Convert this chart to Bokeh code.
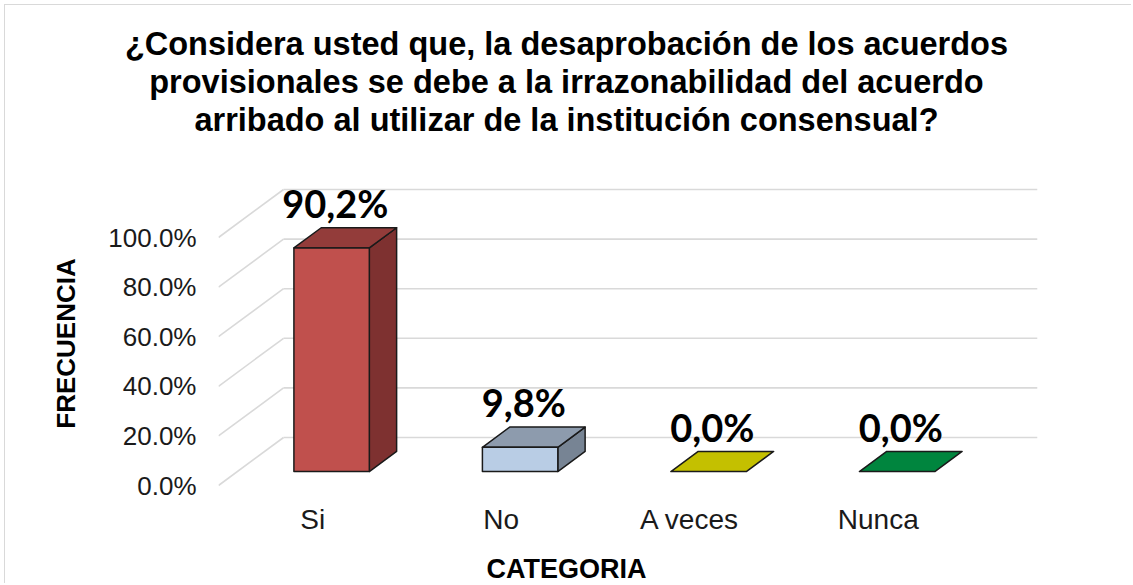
import numpy as np
from bokeh.plotting import figure
from bokeh.models import (LinearAxis, FixedTicker, PrintfTickFormatter,
                          CustomJSTickFormatter, Range1d, Title, ColumnDataSource)
from bokeh.core.properties import value
from bokeh.embed import file_html
from bokeh.resources import INLINE

# ---------------- data ----------------
categories = ["Si", "No", "A veces", "Nunca"]
percentages = [90.2, 9.8, 0.0, 0.0]
value_labels = ["90,2%", "9,8%", "0,0%", "0,0%"]
front_colors = ["#C0504D", "#B9CDE5", "#C4C000", "#00853E"]
top_colors = ["#933C3A", "#8D9BAD", "#C4C000", "#00853E"]
side_colors = ["#7E3130", "#778494", "#939000", "#00642F"]
y_ticks = [0, 20, 40, 60, 80, 100]
title_lines = ["¿Considera usted que, la desaprobación de los acuerdos",
               "provisionales se debe a la irrazonabilidad del acuerdo",
               "arribado al utilizar de la institución consensual?"]
x_title = "CATEGORIA"
y_title = "FRECUENCIA"

# ---------------- helpers: Arial/Liberation Sans Bold advance widths ----------------
AB = {' ': 278, '¿': 611, '?': 611, ',': 278, '.': 278,
      'A': 722, 'C': 722, 'E': 667, 'F': 611, 'G': 778, 'I': 278, 'N': 722, 'O': 778,
      'R': 722, 'T': 611, 'U': 722,
      'a': 556, 'b': 611, 'c': 556, 'd': 611, 'e': 556, 'f': 333, 'g': 611, 'h': 611,
      'i': 278, 'j': 278, 'l': 278, 'm': 889, 'n': 611, 'o': 611, 'ó': 611, 'p': 611,
      'q': 611, 'r': 389, 's': 556, 't': 333, 'u': 611, 'v': 556, 'z': 500}

def bold_width(s, size):
    return sum(AB.get(ch, 556) for ch in s) * size / 1000.0

# ---------------- geometry (3-D look), in page pixels ----------------
DX, DY = 0.345, 19.35      # depth of the wall box: category units, percent units
D0, D1 = 0.29, 0.71        # depth span occupied by the bars
BL, BR = 0.30, 0.70        # bar span inside a category slot
PX_X, PX_Y = 188.5, 2.48   # pixels per category unit / per percent
ORIG_X, ORIG_Y = 218, 485  # page position of (0, 0)

OFF = 5                    # canvas origin on the page (4px margin + 1px border)
W, H = 1127, 579
PAGE_R, PAGE_B = OFF + W, OFF + H
FRAME_L, FRAME_R, FRAME_T, FRAME_B = 218, 1037, 137, 487
x_end = (FRAME_R - FRAME_L) / PX_X
y_end = (ORIG_Y - FRAME_T) / PX_Y
y_start = (ORIG_Y - FRAME_B) / PX_Y

p = figure(width=W, height=H, x_range=Range1d(0, x_end), y_range=Range1d(y_start, y_end),
           x_axis_type=None, y_axis_type=None, toolbar_location=None,
           output_backend="svg", min_border_left=FRAME_L - OFF,
           min_border_right=PAGE_R - FRAME_R, min_border_top=FRAME_T - OFF,
           min_border_bottom=PAGE_B - FRAME_B,
           styles={"margin-left": "4px", "margin-top": "4px",
                   "border-left": "1px solid #D9D9D9", "border-top": "1px solid #D9D9D9"})
p.outline_line_color = None
p.background_fill_color = "white"
p.border_fill_color = "white"

# ---------------- axes ----------------
yaxis = LinearAxis(ticker=FixedTicker(ticks=y_ticks),
                   formatter=PrintfTickFormatter(format="%.1f%%"))
xaxis = LinearAxis(ticker=FixedTicker(ticks=[i + 0.5 for i in range(len(categories))]),
                   formatter=CustomJSTickFormatter(args=dict(cats=categories),
                                                   code="return cats[Math.floor(tick)];"))
for ax in (yaxis, xaxis):
    ax.axis_line_color = None
    ax.major_tick_line_color = None
    ax.minor_tick_line_color = None
    ax.major_tick_out = 0
    ax.major_tick_in = 0
    ax.minor_tick_out = 0
    ax.minor_tick_in = 0
    ax.major_label_text_font = "Liberation Sans"
    ax.major_label_text_color = "#1A1A1A"
yaxis.major_label_text_font_size = "26px"
xaxis.major_label_text_font_size = "28px"
yaxis.major_label_standoff = 22
xaxis.major_label_standoff = 16
# invisible spacer label so that the category title sits at the bottom
xaxis.axis_label = " "
xaxis.axis_label_text_font_size = "1px"
xaxis.axis_label_standoff = 10
p.add_layout(yaxis, "left")
p.add_layout(xaxis, "below")

# ---------------- walls / gridlines ----------------
n = len(categories)
gxs, gys = [], []
for t in y_ticks:
    gxs.append([DX, n + DX]); gys.append([t + DY, t + DY])
    gxs.append([0, DX]); gys.append([t, t + DY])
p.multi_line(gxs, gys, line_color="#D9D9D9", line_width=1.6)

# ---------------- bars ----------------
sx, sy, sc = [], [], []
tx, ty, tc = [], [], []
fx, fy, fc = [], [], []
ddx, ddy = (D1 - D0) * DX, (D1 - D0) * DY
for i, v in enumerate(percentages):
    xl = i + BL + D0 * DX
    xr = i + BR + D0 * DX
    yb = D0 * DY
    yt = v + D0 * DY
    if v > 0:
        sx.append([xr, xr + ddx, xr + ddx, xr]); sy.append([yb, yb + ddy, yt + ddy, yt])
        sc.append(side_colors[i])
        fx.append([xl, xr, xr, xl]); fy.append([yb, yb, yt, yt]); fc.append(front_colors[i])
    tx.append([xl, xr, xr + ddx, xl + ddx]); ty.append([yt, yt, yt + ddy, yt + ddy])
    tc.append(top_colors[i])

p.patches(sx, sy, fill_color=sc, line_color="#1A1A1A", line_width=1.5, line_join="round")
p.patches(tx, ty, fill_color=tc, line_color="#1A1A1A", line_width=1.5, line_join="round")
p.patches(fx, fy, fill_color=fc, line_color="#1A1A1A", line_width=1.5, line_join="round")

# ---------------- value labels ----------------
lab_src = ColumnDataSource(dict(
    x=[i + 0.5 + 0.12 for i in range(n)],
    y=[v + D1 * DY + 10.0 for v in percentages],
    text=value_labels))
p.text(x="x", y="y", text="text", source=lab_src, text_font=value("Lato"),
       text_font_style="bold", text_font_size="38px", text_align="center",
       text_baseline="alphabetic", text_color="#000000")

# ---------------- titles ----------------
TITLE_SIZE = 32.5
TITLE_CX = 566
for line in reversed(title_lines):     # nearest to the frame first
    off = TITLE_CX - bold_width(line, TITLE_SIZE) / 2 - FRAME_L
    p.add_layout(Title(text=line, align="left", offset=off, standoff=0,
                       vertical_align="bottom", text_font="Liberation Sans",
                       text_font_style="bold", text_font_size=f"{TITLE_SIZE}px",
                       text_color="#000000"), "above")

X_SIZE = 27
x_off = 567 - bold_width(x_title, X_SIZE) / 2 - FRAME_L
p.add_layout(Title(text=x_title, align="left", offset=x_off, standoff=0,
                   vertical_align="bottom", text_font="Liberation Sans",
                   text_font_style="bold", text_font_size=f"{X_SIZE}px",
                   text_color="#000000"), "below")

Y_SIZE = 26
y_off = FRAME_B - (343 + bold_width(y_title, Y_SIZE) / 2)
p.add_layout(Title(text=y_title, align="left", offset=y_off, standoff=46,
                   vertical_align="top", text_font="Liberation Sans",
                   text_font_style="bold", text_font_size=f"{Y_SIZE}px",
                   text_color="#000000"), "left")

open("out.html", "w").write(file_html(p, INLINE))
